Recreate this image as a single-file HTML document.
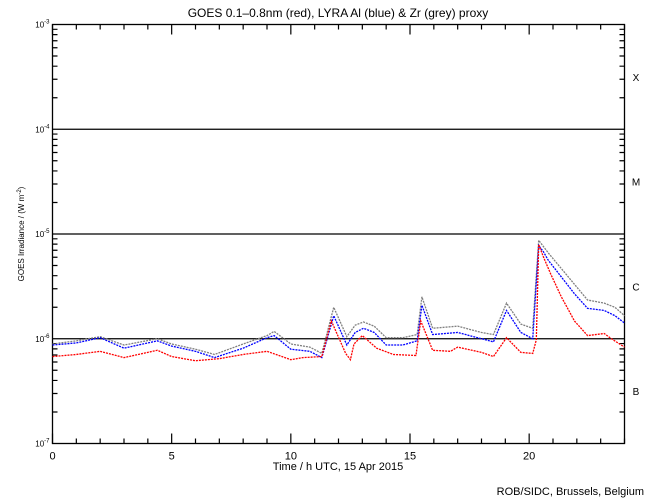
<!DOCTYPE html>
<html><head><meta charset="utf-8"><style>
body{margin:0;background:#fff}
svg{display:block;font-family:"Liberation Sans",sans-serif}
</style></head><body>
<svg id="c" width="650" height="500" viewBox="0 0 650 500">
<rect width="650" height="500" fill="#fff"/>
<text x="338" y="17" font-size="12" text-anchor="middle">GOES 0.1–0.8nm (red), LYRA Al (blue) &amp; Zr (grey) proxy</text>
<text x="338" y="470" font-size="11" text-anchor="middle">Time / h UTC, 15 Apr 2015</text>
<text transform="translate(24,234) rotate(-90)" font-size="8" text-anchor="middle">GOES Irradiance / (W m<tspan dy="-3" font-size="6">-2</tspan><tspan dy="3">)</tspan></text>
<text x="644" y="495" font-size="11" text-anchor="end">ROB/SIDC, Brussels, Belgium</text>
<g id="ax"></g>
<g id="series"></g>
</svg>
<script>
const hoursRed=[0,1,2,3,4.4,5,6,7,8,9,10,10.5,11.3,11.7,12.3,12.5,12.65,13,13.6,14.3,15.25,15.45,15.95,16.7,17,18,18.5,19.05,19.65,20.15,20.3,20.4,20.6,20.9,21.35,21.9,22.45,23.15,23.45,24];
const logRed=[-6.17,-6.15,-6.12,-6.18,-6.11,-6.17,-6.21,-6.19,-6.15,-6.12,-6.2,-6.18,-6.17,-5.83,-6.14,-6.2,-6.05,-5.97,-6.09,-6.15,-6.16,-5.83,-6.11,-6.12,-6.08,-6.13,-6.17,-5.99,-6.13,-6.14,-6.01,-5.1,-5.22,-5.38,-5.6,-5.83,-5.97,-5.95,-6.0,-6.08];
const hoursBlue=[0,1,2,3,4.4,5,6,6.8,8,9,9.3,10,10.8,11.3,11.8,12.35,12.7,13.05,13.5,14,14.7,15.3,15.5,15.95,17,18,18.5,19.05,19.65,20.15,20.4,20.6,20.8,21.35,21.9,22.45,23.15,23.6,24];
const logBlue=[-6.06,-6.04,-5.99,-6.09,-6.02,-6.07,-6.12,-6.18,-6.09,-5.99,-5.97,-6.1,-6.12,-6.18,-5.78,-6.06,-5.94,-5.9,-5.94,-6.06,-6.06,-6.02,-5.68,-5.96,-5.94,-6.0,-6.03,-5.73,-5.94,-6.0,-5.11,-5.17,-5.25,-5.41,-5.57,-5.71,-5.73,-5.78,-5.85];
const hoursGrey=[0,1,2,3,4.4,5,6,6.8,8,9,9.3,10,10.8,11.3,11.8,12.35,12.7,13.05,13.5,14,14.7,15.3,15.5,15.95,17,18,18.5,19.05,19.65,20.15,20.4,20.6,20.8,21.35,21.9,22.45,23.15,23.6,24];
const logGrey=[-6.05,-6.02,-5.98,-6.06,-6.0,-6.05,-6.1,-6.15,-6.05,-5.97,-5.93,-6.05,-6.08,-6.14,-5.7,-5.98,-5.87,-5.84,-5.88,-5.99,-5.99,-5.96,-5.6,-5.9,-5.88,-5.94,-5.96,-5.66,-5.86,-5.9,-5.06,-5.12,-5.18,-5.33,-5.48,-5.63,-5.66,-5.7,-5.78];
const xTicks=[0,5,10,15,20];
const yExps=[-3,-4,-5,-6,-7];
const classLabels=["X","M","C","B"];

const X0=52.5,X1=624.5,Y0=24.5,Y1=443.5;
const xs=h=>X0+(X1-X0)*h/24;
const ys=l=>Y0+(Y1-Y0)*(-3-l)/4;
const NS="http://www.w3.org/2000/svg";
function mk(t,a,p){const e=document.createElementNS(NS,t);for(const k in a)e.setAttribute(k,a[k]);p.appendChild(e);return e;}
const ax=document.getElementById('ax');
let fr=mk('rect',{x:X0,y:Y0,width:X1-X0,height:Y1-Y0,fill:'none',stroke:'#000','stroke-width':1.3},ax);


for(let h=0;h<=24;h++){
  const L=(h%5===0)?10:5;
  let t=mk('path',{d:`M${xs(h)},${Y1}v${-L}M${xs(h)},${Y0}v${L}`,stroke:'#000','stroke-width':1.2},ax);
  
  
}
xTicks.forEach(h=>{
  let t=mk('text',{x:xs(h),y:Y1+16,'font-size':11,'text-anchor':'middle'},ax);t.textContent=h;
  
  
});
for(let d=-7;d<-3;d++){for(let m=2;m<=9;m++){
  const y=ys(d+Math.log10(m));
  let t=mk('path',{d:`M${X0},${y}h5M${X1},${y}h-5`,stroke:'#000','stroke-width':1.2},ax);
  
  
}}
yExps.forEach(e=>{
  const y=ys(e);
  if(e<-3&&e>-7){let g=mk('line',{x1:X0,x2:X1,y1:y,y2:y,stroke:'#000','stroke-width':1.3},ax);
    
    }
  let t=mk('text',{x:X0-3,y:y+3,'font-size':8,'text-anchor':'end'},ax);
  t.innerHTML='10<tspan dy="-4" font-size="6">'+e+'</tspan>';
  
  
});
classLabels.forEach((c,i)=>{
  let t=mk('text',{x:636,y:ys(-3.5-i)+4,'font-size':10,'text-anchor':'middle'},ax);t.textContent=c;
  
  
});
const sg=document.getElementById('series');
function line(hs,ls,col,name){
  let p=mk('polyline',{points:hs.map((h,i)=>xs(h)+','+ys(ls[i])).join(' '),fill:'none',stroke:col,'stroke-width':1.3,'stroke-dasharray':'2 1'},sg);
  
  
}
line(hoursGrey,logGrey,'#808080','zr-grey-series');
line(hoursBlue,logBlue,'#0000ff','al-blue-series');
line(hoursRed,logRed,'#ff0000','goes-red-series');
</script>
</body></html>
